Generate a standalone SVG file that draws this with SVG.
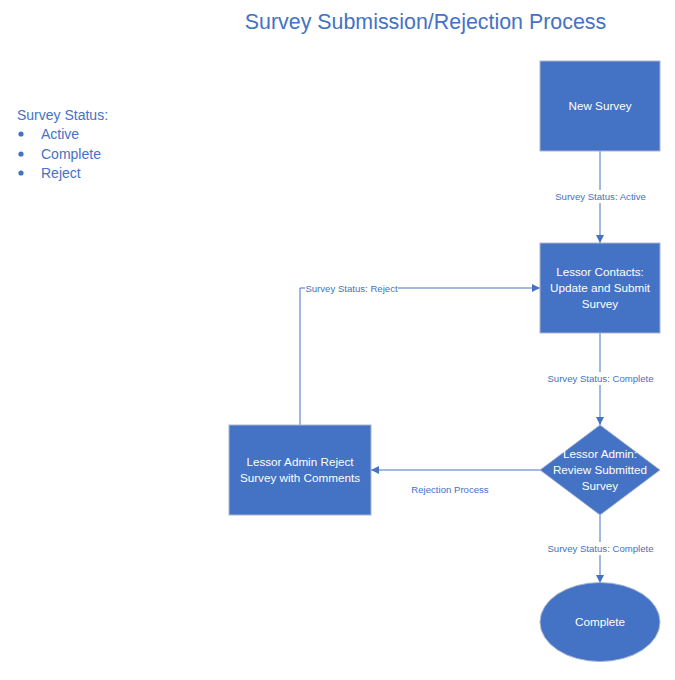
<svg xmlns="http://www.w3.org/2000/svg" width="675" height="680" viewBox="0 0 675 680">
<defs>
<marker id="arr" viewBox="0 0 10 10" refX="10" refY="5" markerWidth="8" markerHeight="8" markerUnits="userSpaceOnUse" orient="auto">
<path d="M0,0 L10,5 L0,10 z" fill="#4472C4"/>
</marker>
<style>
.node{fill:#4472C4;stroke:#A9B6CF;stroke-width:1}
.nt{fill:#FFFFFF;font-family:"Liberation Sans",Arial,sans-serif;font-size:11.7px;text-anchor:middle}
.conn{fill:none;stroke:#4472C4;stroke-width:1;marker-end:url(#arr)}
.lbl{fill:#4472C4;font-family:"Liberation Sans",Arial,sans-serif;font-size:9.6px;text-anchor:middle}
.bg{fill:#FFFFFF}
.title{fill:#4472C4;font-family:"Liberation Sans",Arial,sans-serif;font-size:21.4px;text-anchor:middle}
.leg{fill:#4472C4;font-family:"Liberation Sans",Arial,sans-serif;font-size:14px}
</style>
</defs>
<rect width="675" height="680" fill="#FFFFFF"/>
<text class="title" x="425.5" y="29">Survey Submission/Rejection Process</text>
<g id="legend">
<text class="leg" x="17" y="120">Survey Status:</text>
<circle cx="21" cy="134" r="2.6" fill="#4472C4"/>
<text class="leg" x="41" y="139">Active</text>
<circle cx="21" cy="154" r="2.6" fill="#4472C4"/>
<text class="leg" x="41" y="159">Complete</text>
<circle cx="21" cy="173" r="2.6" fill="#4472C4"/>
<text class="leg" x="41" y="178">Reject</text>
</g>
<g id="connectors">
<path class="conn" d="M600,151 V243"/>
<rect class="bg" x="552" y="190" width="97" height="13"/>
<text class="lbl" x="600.5" y="200">Survey Status: Active</text>
<path class="conn" d="M600,333 V425"/>
<rect class="bg" x="545" y="372" width="111" height="13"/>
<text class="lbl" x="600.5" y="382">Survey Status: Complete</text>
<path class="conn" d="M600,515 V583"/>
<rect class="bg" x="545" y="542" width="111" height="13"/>
<text class="lbl" x="600.5" y="552">Survey Status: Complete</text>
<path class="conn" d="M541,470 H371"/>
<text class="lbl" x="450" y="493">Rejection Process</text>
<path class="conn" d="M300,425 V288 H540"/>
<rect class="bg" x="305" y="282" width="93" height="12"/>
<text class="lbl" x="351.5" y="291.5">Survey Status: Reject</text>
</g>
<g id="new-survey">
<rect class="node" x="540" y="61" width="120" height="90"/>
<text class="nt" x="600" y="110">New Survey</text>
</g>
<g id="lessor-contacts">
<rect class="node" x="540" y="243" width="120" height="90"/>
<text class="nt" x="600" y="276">Lessor Contacts:</text>
<text class="nt" x="600" y="292">Update and Submit</text>
<text class="nt" x="600" y="308">Survey</text>
</g>
<g id="review">
<path class="node" d="M600,425 L660,470 L600,515 L540,470 z"/>
<text class="nt" x="600" y="458">Lessor Admin:</text>
<text class="nt" x="600" y="474">Review Submitted</text>
<text class="nt" x="600" y="490">Survey</text>
</g>
<g id="reject">
<rect class="node" x="229" y="425" width="142" height="90"/>
<text class="nt" x="300" y="466">Lessor Admin Reject</text>
<text class="nt" x="300" y="482">Survey with Comments</text>
</g>
<g id="complete">
<ellipse class="node" cx="600" cy="622" rx="60" ry="39.5"/>
<text class="nt" x="600" y="626">Complete</text>
</g>
</svg>
